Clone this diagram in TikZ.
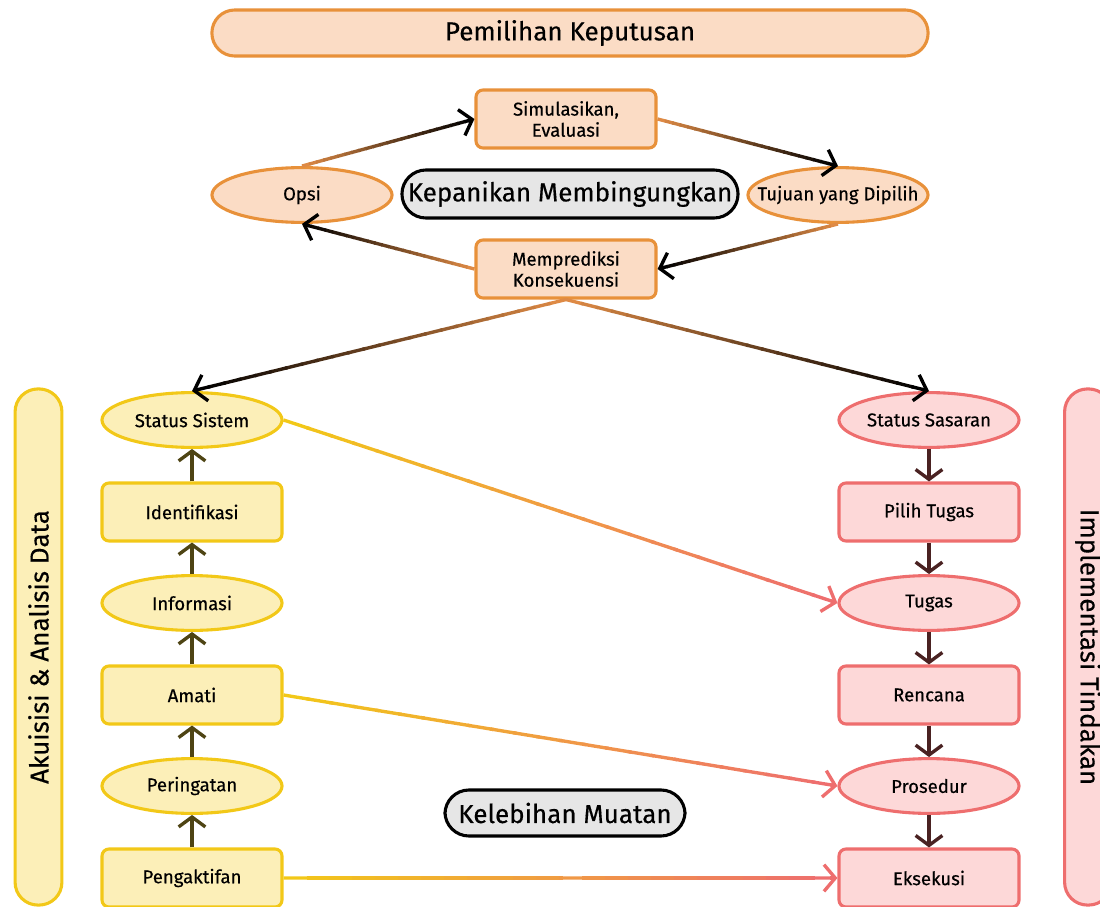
\documentclass[tikz,border=0pt]{standalone}
\usepackage{fontspec}
\setmainfont{Fira Sans}[FakeBold=0.4]
\usetikzlibrary{positioning}
\usetikzlibrary{shapes}
\usetikzlibrary{arrows.meta}
\usetikzlibrary{calc}

\definecolor{orgline}{HTML}{E8913A}
\definecolor{orgfill}{HTML}{FBDCC5}
\definecolor{orgstart}{HTML}{DE8A45}
\definecolor{ylwline}{HTML}{F2C818}
\definecolor{ylwfill}{HTML}{FCEFB8}
\definecolor{redline}{HTML}{EE6E6E}
\definecolor{redfill}{HTML}{FDD8D8}
\definecolor{grayfill}{HTML}{E6E6E6}
\definecolor{oliveline}{HTML}{4E4414}
\definecolor{brownline}{HTML}{4A2222}

\begin{document}
\begin{tikzpicture}[x=0.025cm, y=-0.025cm,
  box/.style={rectangle, rounded corners=5pt, line width=2.2pt, minimum width=4.5cm, minimum height=1.45cm, align=center, inner sep=2pt, font=\fontsize{13.2}{15}\selectfont},
  oval/.style={ellipse, line width=2.2pt, minimum width=4.5cm, minimum height=1.37cm, inner xsep=-0.8cm, inner ysep=0pt, font=\fontsize{13.2}{15}\selectfont},
  banner/.style={rectangle, rounded corners=0.57cm, line width=2.2pt, minimum height=1.15cm, font=\fontsize{18.5}{21}\selectfont},
  panic/.style={rectangle, rounded corners=0.6cm, line width=2.2pt, draw=black, fill=grayfill, font=\fontsize{18.5}{21}\selectfont},
  upline/.style={draw=oliveline, line width=2.4pt, -{Straight Barb[length=7pt,width=19pt]}},
  downline/.style={draw=brownline, line width=2.4pt, -{Straight Barb[length=7pt,width=19pt]}},
  tipline/.style={line width=2.4pt, -{Straight Barb[length=8pt,width=19pt]}}
]
\useasboundingbox (0,0) rectangle (1100,907);

%top part
\node[banner, draw=orgline, fill=orgfill, minimum width=17.9cm] (keputusan) at (570,33) {Pemilihan Keputusan};
\node[box, draw=orgline, fill=orgfill] (sim) at (566,119) {Simulasikan,\\Evaluasi};
\node[oval, draw=orgline, fill=orgfill] (opsi) at (302,195) {Opsi};
\node[panic, minimum width=8.4cm, minimum height=1.2cm] (panik) at (570,194) {Kepanikan Membingungkan};
\node[oval, draw=orgline, fill=orgfill] (tujuan) at (838,195) {Tujuan yang Dipilih};
\node[box, draw=orgline, fill=orgfill] (pred) at (566,269) {Memprediksi\\Konsekuensi};

%side banners
\node[banner, rotate=90, draw=ylwline, fill=ylwfill, minimum width=12.9cm, minimum height=1.17cm] (akuisisi) at (38.5,647) {Akuisisi \& Analisis Data};
\node[banner, rotate=-90, draw=redline, fill=redfill, minimum width=12.9cm, minimum height=1.17cm] (implementasi) at (1088,647) {Implementasi Tindakan};

%left column
\node[oval, draw=ylwline, fill=ylwfill] (sistem) at (192,420) {Status Sistem};
\node[box, draw=ylwline, fill=ylwfill] (ident) at (192,512) {Identifikasi};
\node[oval, draw=ylwline, fill=ylwfill] (info) at (192,603) {Informasi};
\node[box, draw=ylwline, fill=ylwfill] (amati) at (192,695) {Amati};
\node[oval, draw=ylwline, fill=ylwfill] (peringatan) at (192,786) {Peringatan};
\node[box, draw=ylwline, fill=ylwfill] (aktif) at (192,878) {Pengaktifan};

%right column
\node[oval, draw=redline, fill=redfill] (sasaran) at (929,420) {Status Sasaran};
\node[box, draw=redline, fill=redfill] (pilih) at (929,512) {Pilih Tugas};
\node[oval, draw=redline, fill=redfill] (tugas) at (929,603) {Tugas};
\node[box, draw=redline, fill=redfill] (rencana) at (929,695) {Rencana};
\node[oval, draw=redline, fill=redfill] (prosedur) at (929,786) {Prosedur};
\node[box, draw=redline, fill=redfill] (eksekusi) at (929,878) {Eksekusi};

\node[panic, minimum width=6cm, minimum height=1.15cm] (muatan) at (565,813) {Kelebihan Muatan};

%column arrows
\draw[upline] (aktif) -- (peringatan);
\draw[upline] (peringatan) -- (amati);
\draw[upline] (amati) -- (info);
\draw[upline] (info) -- (ident);
\draw[upline] (ident) -- (sistem);
\draw[downline] (sasaran) -- (pilih);
\draw[downline] (pilih) -- (tugas);
\draw[downline] (tugas) -- (rencana);
\draw[downline] (rencana) -- (prosedur);
\draw[downline] (prosedur) -- (eksekusi);

%shaded arrows
\foreach \a/\b/\ca/\cb in {opsi.north/sim.west/orgstart/black, sim.east/tujuan.north/orgstart/black,
  tujuan.south/pred.east/orgstart/black, pred.west/opsi.south/orgstart/black,
  pred.south/sistem.north/orgstart/black, pred.south/sasaran.north/orgstart/black,
  sistem.east/tugas.west/ylwline/redline, amati.east/prosedur.west/ylwline/redline,
  aktif.east/eksekusi.west/ylwline/redline}
{
  \coordinate (e) at ($(\b)!2pt!(\a)$);
  \foreach \i in {0,...,23}
  {
    \pgfmathtruncatemacro{\p}{100-\i*100/23}
    \pgfmathsetmacro{\s}{\i/24}
    \pgfmathsetmacro{\t}{min((\i+1.15)/24,1)}
    \draw[draw=\ca!\p!\cb, line width=2.4pt] ($(\a)!\s!(e)$) -- ($(\a)!\t!(e)$);
  }
  \draw[tipline, draw=\cb] ($(\b)!5pt!(\a)$) -- (\b);
}

\end{tikzpicture}
\end{document}
